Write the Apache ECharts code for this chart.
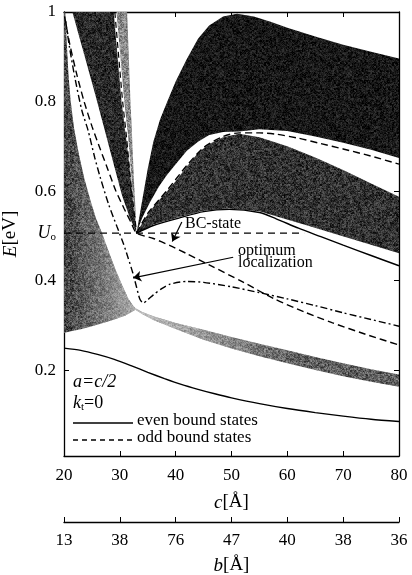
<!DOCTYPE html>
<html>
<head>
<meta charset="utf-8">
<script src="https://cdn.jsdelivr.net/npm/echarts/dist/echarts.min.js"></script>
<style>html,body{margin:0;background:#fff}#main{width:412px;height:575px}</style>
</head>
<body>
<div id="main"></div>
<script>
// values, points are [c (Å), E (eV)]
var cTicks = [20, 30, 40, 50, 60, 70, 80];
var bLabels = ['13', '38', '76', '47', '40', '38', '36'];
var eTicks = [0.2, 0.4, 0.6, 0.8, 1];
var U0 = 0.506;

// lowest allowed band (left part) and its thin continuation
var bandAEdge = [[20.2,1],[20.5,0.93],[20.8,0.86],[21.2,0.8],[21.8,0.74],[22.7,0.68],[23.6,0.63],[24.6,0.585],[25.7,0.54],[26.8,0.506],[28,0.465],[29.2,0.425],[30.4,0.39],[31.5,0.36],[32.3,0.345],[32.8,0.338]];
var bandABottom = [[32.8,0.335],[31,0.322],[29,0.313],[27,0.305],[25,0.298],[23,0.291],[21,0.286],[20,0.283]];
var thinTop = [[32.8,0.338],[34,0.33],[36,0.32],[40,0.305],[45,0.29],[50,0.274],[55,0.259],[60,0.244],[65,0.229],[70,0.215],[75,0.202],[80,0.19]];
var thinBottom = [[32.8,0.335],[34,0.325],[36,0.312],[40,0.292],[45,0.268],[50,0.248],[55,0.231],[60,0.215],[65,0.2],[70,0.186],[75,0.174],[80,0.163]];

// bands converging into the BC point
var bandBLeft = [[21.5,1],[23.5,0.91],[25.5,0.82],[27.3,0.736],[28.8,0.665],[30.4,0.59],[31.8,0.54],[33,0.506]];
var bandBRight = [[28.9,1],[29.6,0.9],[30.3,0.8],[31,0.73],[31.5,0.68],[32,0.62],[32.5,0.56],[33,0.506]];
var bandCLeft = [[29.4,1],[30.1,0.9],[30.8,0.8],[31.5,0.72],[32,0.64],[32.5,0.57],[33,0.506]];
var bandCRight = [[31.3,1],[31.6,0.9],[31.9,0.8],[32.2,0.72],[32.5,0.63],[32.8,0.56],[33,0.506]];

// upper "dome" band and the band under it
var domeOuter = [[33,0.506],[33.6,0.55],[34.3,0.6],[35,0.65],[36,0.71],[37.2,0.76],[38.5,0.8],[40,0.845],[42,0.895],[44,0.94],[46,0.97],[48.5,0.99],[51,0.996],[54,0.99],[57,0.978],[60,0.965],[65,0.945],[70,0.927],[75,0.911],[80,0.896]];
var domeInner = [[33,0.506],[34,0.54],[35.4,0.575],[37,0.61],[38.4,0.635],[40,0.66],[42,0.69],[44,0.71],[46,0.725],[48.5,0.732],[51.4,0.733],[55,0.738],[60,0.734],[65,0.722],[70,0.708],[75,0.692],[80,0.674]];
var lowDomeTop = [[33,0.506],[34,0.528],[35,0.548],[36.5,0.572],[38.5,0.6],[40,0.622],[42,0.655],[44,0.685],[46,0.705],[48.5,0.72],[51.4,0.728],[55,0.72],[60,0.7],[65,0.675],[70,0.647],[75,0.617],[80,0.587]];
var lowDomeBottom = [[33,0.506],[36,0.525],[40.7,0.542],[45,0.556],[49.6,0.561],[55,0.555],[59,0.54],[63,0.525],[68,0.506],[72,0.491],[76,0.476],[80,0.461]];

// bound states
var evenLow = [[20,0.249],[23,0.244],[26,0.235],[29,0.224],[32,0.21],[35,0.195],[38,0.181],[41,0.168],[44,0.157],[47,0.147],[50,0.138],[55,0.125],[60,0.114],[65,0.105],[70,0.097],[75,0.09],[80,0.085]];
var evenBC = [[33,0.506],[36,0.523],[40.7,0.54],[45,0.554],[49.6,0.559],[55,0.552],[58,0.538],[62,0.517],[66,0.498],[70,0.479],[75,0.456],[80,0.433]];
var oddMain = [[20.1,0.99],[21,0.93],[22.3,0.86],[23.6,0.8],[25,0.745],[26.3,0.7],[27.8,0.65],[29.3,0.6],[30.8,0.56],[32,0.53],[33,0.506],[36,0.494],[39,0.478],[42,0.46],[46,0.435],[52,0.397],[57.5,0.36],[63,0.33],[68,0.306],[74,0.28],[80,0.256]];
var oddGap = [[29.1,1],[29.8,0.9],[30.5,0.8],[31.2,0.72],[31.8,0.64],[32.4,0.57],[33,0.506]];
var oddUpper = [[33,0.506],[35,0.55],[38.5,0.602],[42,0.657],[45,0.697],[48.5,0.722],[51.4,0.73],[55,0.73],[58,0.727],[62,0.718],[66,0.706],[70,0.694],[75,0.678],[80,0.66]];
var optLoc = [[20.3,0.98],[21,0.92],[22,0.85],[23.2,0.78],[24.3,0.736],[25.5,0.675],[26.5,0.63],[28,0.57],[29.5,0.52],[30.6,0.484],[31.5,0.45],[32.3,0.418],[33,0.385],[33.6,0.358],[34.2,0.35],[35,0.357],[36,0.368],[37.5,0.382],[39,0.392],[42,0.398],[45,0.396],[50,0.386],[55,0.373],[60,0.359],[65,0.344],[70,0.328],[75,0.313],[80,0.298]];
var u0Line = [[20,U0],[63,U0]];

var SERIF = '"Liberation Serif", "DejaVu Serif", serif';

// grainy gray like the printed shading (fixed hash, not data)
function hash(x, y, s) {
  var h = (Math.imul(x, 374761393) + Math.imul(y, 668265263) + Math.imul(s, 982451653)) | 0;
  h = Math.imul(h ^ (h >>> 13), 1274126177);
  h = h ^ (h >>> 16);
  return (h >>> 0) / 4294967296;
}
function grain(base, amp, seed) {
  var n = 128;
  var cv = document.createElement('canvas');
  cv.width = cv.height = n;
  var ctx = cv.getContext('2d');
  var img = ctx.createImageData(n, n);
  for (var y = 0; y < n; y++) {
    for (var x = 0; x < n; x++) {
      var a = hash(x, y, seed) - 0.5;
      var b = hash(x >> 1, y >> 1, seed + 7) - 0.5;
      var v = Math.max(0, Math.min(255, base + amp * (0.55 * a + 0.45 * b)));
      var i = (y * n + x) * 4;
      img.data[i] = img.data[i + 1] = img.data[i + 2] = v;
      img.data[i + 3] = 255;
    }
  }
  ctx.putImageData(img, 0, 0);
  return {type: 'pattern', image: cv, repeat: 'repeat'};
}
function fade(x1, x2, a1, a2) {
  return {
    type: 'linear', x: x1, y: 0, x2: x2, y2: 0, global: true,
    colorStops: [{offset: 0, color: 'rgba(255,255,255,' + a1 + ')'}, {offset: 1, color: 'rgba(255,255,255,' + a2 + ')'}]
  };
}

function band(pts, fill, z) {
  return {
    type: 'custom', silent: true, z: z || 1,
    data: [[pts[0][0], pts[0][1]]],
    renderItem: function (params, api) {
      return {
        type: 'polygon',
        shape: {points: pts.map(function (p) { return api.coord(p); })},
        style: {fill: fill}
      };
    }
  };
}

function curve(pts, type, w, extra) {
  var s = {
    type: 'line', data: pts, symbol: 'none', showSymbol: false, smooth: 0.25,
    silent: true, z: 5,
    lineStyle: {color: '#000', width: w || 1.4, type: type || 'solid'}
  };
  if (extra) for (var k in extra) s[k] = extra[k];
  return s;
}

var myChart = echarts.init(document.getElementById('main'));

var axisFont = {color: '#000', fontSize: 17, fontFamily: SERIF};
var nameRich = {
  i: {fontStyle: 'italic', fontSize: 19, fontFamily: SERIF, color: '#000'},
  n: {fontSize: 19, fontFamily: SERIF, color: '#000'}
};

var polyA = [[20, 1]].concat(bandAEdge, bandABottom);
var polyThin = thinTop.concat(thinBottom.slice().reverse());

var option = {
  animation: false,
  backgroundColor: '#fff',
  grid: {left: 64, right: 13, top: 12, bottom: 119, outerBoundsMode: 'none'},
  xAxis: [{
    type: 'value', min: 20, max: 80, interval: 10, position: 'bottom',
    axisLine: {lineStyle: {color: '#000', width: 1.3}},
    axisTick: {inside: true, length: 5, lineStyle: {color: '#000'}},
    axisLabel: Object.assign({margin: 11}, axisFont),
    splitLine: {show: false},
    name: '{i|c}{n|[Å]}', nameLocation: 'middle', nameGap: 37,
    nameTextStyle: {rich: nameRich}
  }, {
    type: 'value', min: 20, max: 80, interval: 10, position: 'top',
    axisLine: {lineStyle: {color: '#000', width: 1.3}},
    axisTick: {inside: true, length: 5, lineStyle: {color: '#000'}},
    axisLabel: {show: false}, splitLine: {show: false}
  }, {
    type: 'value', min: 20, max: 80, interval: 10, position: 'bottom', offset: 66,
    axisLine: {lineStyle: {color: '#000', width: 1.3}},
    axisTick: {inside: true, length: 5, lineStyle: {color: '#000'}},
    axisLabel: Object.assign({
      margin: 10,
      formatter: function (v) { return bLabels[cTicks.indexOf(v)]; }
    }, axisFont),
    splitLine: {show: false},
    name: '{i|b}{n|[Å]}', nameLocation: 'middle', nameGap: 34,
    nameTextStyle: {rich: nameRich}
  }],
  yAxis: [{
    type: 'value', min: 0.008, max: 1, position: 'left',
    axisLine: {lineStyle: {color: '#000', width: 1.3}},
    axisTick: {inside: true, length: 5, customValues: eTicks, lineStyle: {color: '#000'}},
    axisLabel: Object.assign({
      margin: 8,
      customValues: eTicks.concat([U0]),
      formatter: function (v) {
        if (Math.abs(v - U0) < 1e-6) return '{u|U}{o|o}';
        return String(v);
      },
      rich: {
        u: {fontStyle: 'italic', fontSize: 18, fontFamily: SERIF, color: '#000'},
        o: {fontSize: 11, fontFamily: SERIF, color: '#000', verticalAlign: 'bottom', padding: [8, 0, 0, 0]}
      }
    }, axisFont),
    splitLine: {show: false},
    name: '{i|E}{n|[eV]}', nameLocation: 'middle', nameGap: 44, nameRotate: 90,
    nameTextStyle: {rich: nameRich}
  }, {
    type: 'value', min: 0.008, max: 1, position: 'right',
    axisLine: {lineStyle: {color: '#000', width: 1.3}},
    axisTick: {inside: true, length: 5, customValues: [0.2, 0.4, 0.6, 0.8], lineStyle: {color: '#000'}},
    axisLabel: {show: false}, splitLine: {show: false}
  }],
  series: [
    band(polyA, grain(70, 120, 1)),
    band(polyA, fade(70, 135, 0, 0.55), 2),
    band(polyThin, grain(95, 120, 2)),
    band(polyThin, fade(135, 300, 0.6, 0), 2),
    band(bandBLeft.concat(bandBRight.slice().reverse()), grain(40, 90, 3)),
    band(bandCLeft.concat(bandCRight.slice().reverse()), grain(135, 110, 4)),
    band(domeOuter.concat(domeInner.slice().reverse()), grain(24, 70, 5)),
    band(lowDomeTop.concat(lowDomeBottom.slice().reverse()), grain(50, 100, 6)),
    curve(evenLow, 'solid', 1.4),
    curve(evenBC, 'solid', 1.4),
    curve(oddMain, [7, 4], 1.4),
    curve(oddGap, [6, 4], 1.2),
    curve(oddUpper, [7, 4], 1.4),
    curve(optLoc, [7, 3, 2, 3], 1.4),
    curve(u0Line, [7, 5], 1.2, {
      smooth: false,
      markLine: {
        silent: true, symbol: ['none', 'arrow'], symbolSize: 8,
        label: {show: false},
        lineStyle: {color: '#000', width: 1.2, type: 'solid'},
        data: [
          [{coord: [41.1, 0.531]}, {coord: [39.4, 0.487]}],
          [{coord: [50.3, 0.452]}, {coord: [32.4, 0.406]}]
        ]
      }
    })
  ],
  graphic: [
    {type: 'text', x: 185, y: 224, z: 10, style: {text: 'BC-state', fontSize: 16, fontFamily: SERIF, fill: '#000', textVerticalAlign: 'middle'}},
    {type: 'text', x: 238, y: 251, z: 10, style: {text: 'optimum', fontSize: 16, fontFamily: SERIF, fill: '#000', textVerticalAlign: 'middle'}},
    {type: 'text', x: 238, y: 263, z: 10, style: {text: 'localization', fontSize: 16, fontFamily: SERIF, fill: '#000', textVerticalAlign: 'middle'}},
    {type: 'text', x: 73, y: 382, z: 10, style: {text: 'a=c/2', fontSize: 18, fontStyle: 'italic', fontFamily: SERIF, fill: '#000', textVerticalAlign: 'middle'}},
    {type: 'text', x: 73, y: 403, z: 10, style: {
      text: '{i|k}{s|t}{n|=0}', textVerticalAlign: 'middle',
      rich: {
        i: {fontSize: 18, fontStyle: 'italic', fontFamily: SERIF, fill: '#000'},
        s: {fontSize: 11, fontFamily: SERIF, fill: '#000', padding: [8, 0, 0, 0]},
        n: {fontSize: 18, fontFamily: SERIF, fill: '#000'}
      }
    }},
    {type: 'line', z: 10, shape: {x1: 73, y1: 423, x2: 133, y2: 423}, style: {stroke: '#000', lineWidth: 1.4}},
    {type: 'text', x: 137, y: 421, z: 10, style: {text: 'even bound states', fontSize: 17, fontFamily: SERIF, fill: '#000', textVerticalAlign: 'middle'}},
    {type: 'line', z: 10, shape: {x1: 73, y1: 440, x2: 134, y2: 440}, style: {stroke: '#000', lineWidth: 1.4, lineDash: [5, 4]}},
    {type: 'text', x: 137, y: 438, z: 10, style: {text: 'odd bound states', fontSize: 17, fontFamily: SERIF, fill: '#000', textVerticalAlign: 'middle'}}
  ]
};
myChart.setOption(option);
</script>
</body>
</html>
